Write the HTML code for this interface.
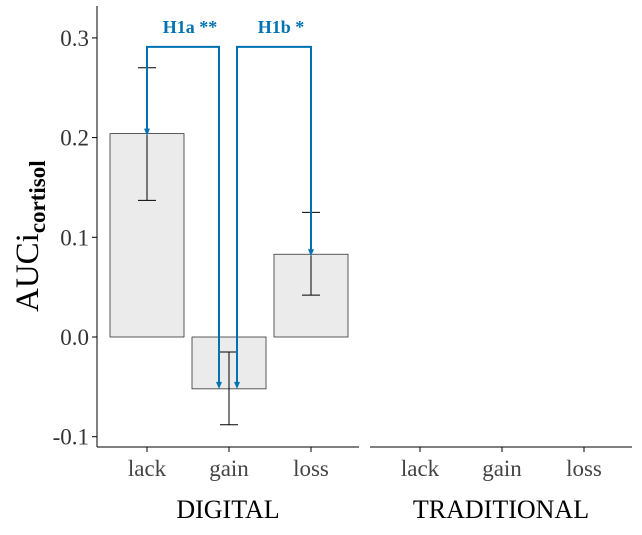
<!DOCTYPE html>
<html><head><meta charset="utf-8"><style>
body{margin:0;background:#fff}
svg{display:block;font-family:"Liberation Serif",serif}
</style></head><body>
<svg id="c" width="642" height="535" viewBox="0 0 642 535"></svg>
<script>
const categories=["lack","gain","loss"];
const panels=["DIGITAL","TRADITIONAL"];
const means=[0.204,-0.052,0.083];
const errLow=[0.137,-0.088,0.042];
const errHigh=[0.270,-0.015,0.125];
const yTicks=[0.3,0.2,0.1,0.0,-0.1];
const yTickLabels=["0.3","0.2","0.1","0.0","-0.1"];
const bracketLevel=0.291;
const annotations=[{label:"H1a **",from:0,to:1},{label:"H1b *",from:1,to:2}];
const svg=document.getElementById('c');
const NS="http://www.w3.org/2000/svg";
function el(t,a,p){const e=document.createElementNS(NS,t);for(const k in a)e.setAttribute(k,a[k]);(p||svg).appendChild(e);return e;}
const y=v=>337-v*997;
const panelX=[97,370],panelW=262;
const x=(p,i)=>panelX[p]+50+i*82;
let ax=el('line',{x1:97,y1:6,x2:97,y2:447,stroke:'#000','stroke-width':1});

yTicks.forEach((t,i)=>{
 let l=el('line',{x1:92,x2:97,y1:y(t),y2:y(t),stroke:'#000'});
 
 let tx=el('text',{x:89,y:y(t)+8,'text-anchor':'end','font-size':23,fill:'#333'});
 tx.textContent=yTickLabels[i];
 
});
let yt=el('text',{transform:'translate(38,312) rotate(-90)','font-size':33,fill:'#000'});

yt.innerHTML='AUCi<tspan font-size="23" dy="7" font-weight="bold">cortisol</tspan>';
panels.forEach((p,pi)=>{
 let b=el('line',{x1:panelX[pi],x2:panelX[pi]+panelW,y1:447,y2:447,stroke:'#000'});
 
 categories.forEach((c,i)=>{
  let tk=el('line',{x1:x(pi,i),x2:x(pi,i),y1:447,y2:452,stroke:'#000'});
  
  let t=el('text',{x:x(pi,i),y:476,'text-anchor':'middle','font-size':23,fill:'#444'});
  t.textContent=c;
 });
 let pt=el('text',{x:panelX[pi]+panelW/2,y:518,'text-anchor':'middle','font-size':26,fill:'#000'});
 pt.textContent=p;
});
categories.forEach((c,i)=>{
 const cx=x(0,i),top=Math.min(y(means[i]),y(0)),h=Math.abs(y(means[i])-y(0));
 let r=el('rect',{x:cx-37,y:top,width:74,height:h,fill:'#ebebeb',stroke:'#333','stroke-width':0.8});
 
 let g=el('g',{stroke:'#000','stroke-width':1});
 
 el('line',{x1:cx,x2:cx,y1:y(errLow[i]),y2:y(errHigh[i])},g);
 el('line',{x1:cx-9,x2:cx+9,y1:y(errLow[i]),y2:y(errLow[i])},g);
 el('line',{x1:cx-9,x2:cx+9,y1:y(errHigh[i]),y2:y(errHigh[i])},g);
});
const blue='#0072B2';
annotations.forEach((a,k)=>{
 const x1=x(0,a.from)+(k===1?8:0), x2=x(0,a.to)-(k===0?10:0);
 const ya=y(bracketLevel);
 const end=i=>means[i]>=0?y(means[i])+2:y(means[i]);
 let g=el('g',{stroke:blue,'stroke-width':2,fill:'none'});
 
 el('polyline',{points:`${x1},${end(a.from)-4} ${x1},${ya} ${x2},${ya} ${x2},${end(a.to)-4}`},g);
 [[x1,end(a.from)],[x2,end(a.to)]].forEach(([px,py])=>{
  el('polygon',{points:`${px-3},${py-7} ${px+3},${py-7} ${px},${py}`,fill:blue,stroke:'none'},g);
 });
 let t=el('text',{x:(x1+x2)/2+7,y:33,'text-anchor':'middle','font-size':18,'font-weight':'bold',fill:blue});
 t.textContent=a.label;
});
</script>
</body></html>
